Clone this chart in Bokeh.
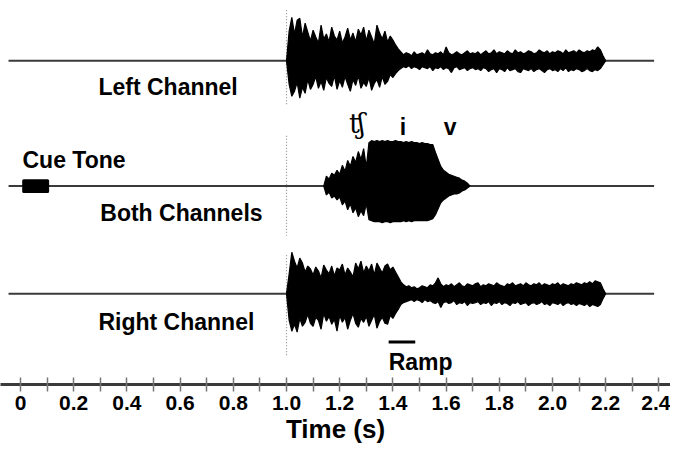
import numpy as np
from bokeh.plotting import figure
from bokeh.models import Range1d, FixedTicker
from bokeh.core.properties import value
from bokeh.embed import file_html
from bokeh.resources import INLINE

# ---------------- data ----------------
SAMPLE_STEP = 0.01  # s, envelope sampling

# Left channel envelope (amplitude above / below baseline), starting at 1.00 s
LEFT_START = 1.00
LEFT_UPPER = [0, 30, 44, 27, 41, 43, 24, 38, 29, 20,
              31, 24, 18, 36, 22, 27, 19, 34, 25, 21,
              30, 18, 24, 33, 21, 28, 19, 32, 26, 34,
              20, 31, 24, 17, 36, 28, 22, 30, 19, 25,
              21, 16, 12, 9, 6, 8, 7, 5, 9, 6,
              7, 8, 6, 11, 7, 6, 8, 7, 9, 6,
              14, 8, 6, 7, 9, 7, 6, 8, 10, 7,
              8, 7, 9, 6, 8, 10, 7, 8, 11, 7,
              9, 8, 7, 10, 8, 7, 11, 8, 9, 7,
              8, 10, 9, 7, 8, 11, 9, 8, 10, 7,
              9, 8, 10, 9, 7, 11, 8, 9, 10, 8,
              11, 9, 8, 10, 9, 11, 10, 14, 11, 5, 0]
LEFT_LOWER = [0, 24, 36, 31, 22, 38, 27, 33, 19, 29,
              24, 16, 28, 21, 30, 17, 23, 26, 15, 29,
              20, 27, 16, 24, 31, 19, 25, 15, 28, 22,
              26, 17, 30, 23, 19, 27, 16, 24, 21, 14,
              17, 13, 10, 8, 6, 7, 5, 8, 6, 7,
              9, 6, 7, 8, 6, 10, 7, 8, 6, 9,
              7, 8, 12, 7, 6, 9, 8, 7, 10, 8,
              7, 9, 8, 10, 7, 8, 11, 9, 8, 12,
              8, 9, 11, 7, 10, 9, 8, 11, 12, 8,
              9, 10, 8, 11, 9, 8, 10, 12, 9, 8,
              10, 9, 11, 8, 10, 7, 11, 9, 10, 8,
              9, 11, 10, 8, 10, 11, 9, 10, 8, 4, 0]

# Both channels (target word), starting at 1.14 s
BOTH_START = 1.14
BOTH_UPPER = [0, 10, 7, 13, 11, 16, 12, 21, 15, 26,
              20, 30, 24, 35, 27, 38, 19, 44, 46, 45,
              46, 45, 46, 45, 46, 45, 45, 46, 45, 45,
              44, 45, 44, 45, 44, 44, 43, 44, 43, 43,
              42, 42, 34, 27, 20, 16, 14, 12, 11, 10,
              9, 8, 6, 5, 3, 0]
BOTH_LOWER = [0, 9, 6, 12, 10, 14, 11, 19, 15, 24,
              18, 27, 22, 31, 25, 30, 18, 34, 35, 36,
              36, 36, 37, 36, 36, 37, 36, 36, 36, 36,
              35, 36, 35, 36, 35, 35, 35, 35, 35, 35,
              34, 33, 29, 23, 17, 14, 12, 10, 9, 8,
              8, 7, 5, 4, 2, 0]

# Right channel envelope, starting at 1.00 s
RIGHT_START = 1.00
RIGHT_UPPER = [0, 20, 42, 33, 26, 36, 31, 22, 28, 25,
               19, 27, 23, 16, 29, 24, 20, 28, 18, 26,
               24, 30, 19, 26, 22, 17, 31, 25, 33, 21,
               28, 23, 30, 19, 31, 26, 21, 28, 30, 24,
               27, 22, 17, 12, 9, 7, 8, 6, 7, 5,
               6, 8, 7, 6, 9, 8, 11, 16, 10, 7,
               9, 8, 10, 7, 9, 11, 8, 7, 10, 9,
               8, 10, 11, 7, 9, 8, 10, 9, 8, 11,
               9, 8, 7, 10, 9, 11, 8, 9, 10, 8,
               11, 9, 8, 10, 9, 11, 8, 10, 9, 8,
               10, 9, 11, 8, 10, 9, 8, 10, 9, 11,
               10, 9, 11, 10, 12, 10, 13, 12, 11, 5, 0]
RIGHT_LOWER = [0, 27, 38, 31, 39, 25, 33, 29, 21, 30,
               33, 24, 27, 36, 20, 28, 23, 31, 26, 38,
               22, 29, 24, 36, 27, 20, 30, 34, 25, 29,
               23, 33, 27, 21, 35, 28, 24, 30, 31, 22,
               25, 20, 16, 11, 9, 8, 7, 6, 8, 6,
               7, 9, 6, 8, 7, 9, 10, 8, 14, 9,
               8, 10, 9, 7, 11, 9, 10, 8, 12, 9,
               10, 9, 8, 11, 9, 10, 8, 12, 9, 10,
               8, 11, 9, 10, 12, 9, 10, 8, 11, 10,
               9, 12, 10, 9, 11, 10, 8, 11, 10, 12,
               9, 10, 11, 9, 12, 10, 9, 11, 10, 12,
               10, 11, 12, 10, 13, 11, 12, 13, 11, 5, 0]

CUE_TONE = (0.012, 0.102)   # s
ONSET = 1.0                 # s, dotted onset marker
RAMP = (1.384, 1.484)       # s
PHONEMES = ["ʧ", "i", "v"]
PHONEME_T = [1.265, 1.438, 1.615]

MAJOR_TICKS = [0.0, 0.2, 0.4, 0.6, 0.8, 1.0, 1.2, 1.4, 1.6, 1.8, 2.0, 2.2, 2.4]
TICK_LABELS = ["0", "0.2", "0.4", "0.6", "0.8", "1.0", "1.2", "1.4", "1.6", "1.8", "2.0", "2.2", "2.4"]
MINOR_TICKS = [0.1, 0.3, 0.5, 0.7, 0.9, 1.1, 1.3, 1.5, 1.7, 1.9, 2.1, 2.3]

# ---------------- layout constants ----------------
LEFT_Y, BOTH_Y, RIGHT_Y = 328, 201, 92
LINE_T = (-0.045, 2.382)
FONT = "Liberation Sans"

p = figure(width=670, height=446, output_backend="svg", toolbar_location=None,
           x_range=Range1d(-0.0752, 2.4436), y_range=Range1d(0, 389),
           y_axis_location=None, min_border=0, min_border_left=0, min_border_right=0,
           min_border_top=0)
p.grid.visible = False
p.outline_line_color = None
p.background_fill_color = "white"

# baselines
for yb in (LEFT_Y, BOTH_Y, RIGHT_Y):
    p.line(x=list(LINE_T), y=[yb, yb], line_color="#3a3a3a", line_width=2)

# onset dotted marker
for y0, y1 in ((379, 284), (252, 151), (131, 29)):
    p.line(x=[ONSET, ONSET], y=[y0, y1], line_color="#8a8a8a", line_width=1.2, line_dash="1 2")


def wave(start, upper, lower, base):
    t = start + SAMPLE_STEP * np.arange(len(upper))
    up = base + np.array(upper, dtype=float)
    lo = base - np.array(lower, dtype=float)
    p.varea(x=t, y1=lo, y2=up, fill_color="black")
    p.line(x=t, y=up, line_color="black", line_width=1.2)
    p.line(x=t, y=lo, line_color="black", line_width=1.2)


wave(LEFT_START, LEFT_UPPER, LEFT_LOWER, LEFT_Y)
wave(BOTH_START, BOTH_UPPER, BOTH_LOWER, BOTH_Y)
wave(RIGHT_START, RIGHT_UPPER, RIGHT_LOWER, RIGHT_Y)

# cue tone
p.quad(left=[CUE_TONE[0]], right=[CUE_TONE[1]], bottom=[BOTH_Y - 5.5], top=[BOTH_Y + 5.5],
       fill_color="black", line_color="black", line_width=3, line_join="round")

# ramp bar
p.line(x=list(RAMP), y=[43, 43], line_color="black", line_width=3)

# labels
p.text(x=[0.293, 0.0075, 0.30, 0.293, RAMP[0]], y=[301, 227, 174, 63, 23],
       text=["Left Channel", "Cue Tone", "Both Channels", "Right Channel", "Ramp"],
       text_font=value(FONT), text_font_style="bold", text_font_size="23px",
       text_align="left", text_baseline="alphabetic", text_color="black")
p.text(x=PHONEME_T[:1], y=[264], text=PHONEMES[:1], text_font=value("DejaVu Serif"),
       text_font_size="27px", text_align="center",
       text_baseline="alphabetic", text_color="black")
p.text(x=PHONEME_T[1:], y=[261, 261], text=PHONEMES[1:], text_font=value(FONT),
       text_font_style="bold", text_font_size="23px", text_align="center",
       text_baseline="alphabetic", text_color="black")

# axis
ax = p.xaxis[0]
ax.ticker = FixedTicker(ticks=MAJOR_TICKS, minor_ticks=MINOR_TICKS)
ax.major_label_overrides = {t: s for t, s in zip(MAJOR_TICKS, TICK_LABELS)}
ax.axis_line_color = "#3a3a3a"
ax.axis_line_width = 3
ax.major_tick_in = 7
ax.major_tick_out = 7
ax.minor_tick_in = 7
ax.minor_tick_out = 7
ax.major_tick_line_color = "#777777"
ax.minor_tick_line_color = "#777777"
ax.major_tick_line_width = 1.5
ax.minor_tick_line_width = 1.5
ax.major_label_text_font = FONT
ax.major_label_text_font_style = "bold"
ax.major_label_text_font_size = "21px"
ax.major_label_text_color = "black"
ax.major_label_standoff = 4
ax.axis_label = "Time (s)"
ax.axis_label_text_font = FONT
ax.axis_label_text_font_style = "bold"
ax.axis_label_text_font_size = "26px"
ax.axis_label_text_color = "black"
ax.axis_label_standoff = 1

open("out.html", "w").write(file_html(p, INLINE))
